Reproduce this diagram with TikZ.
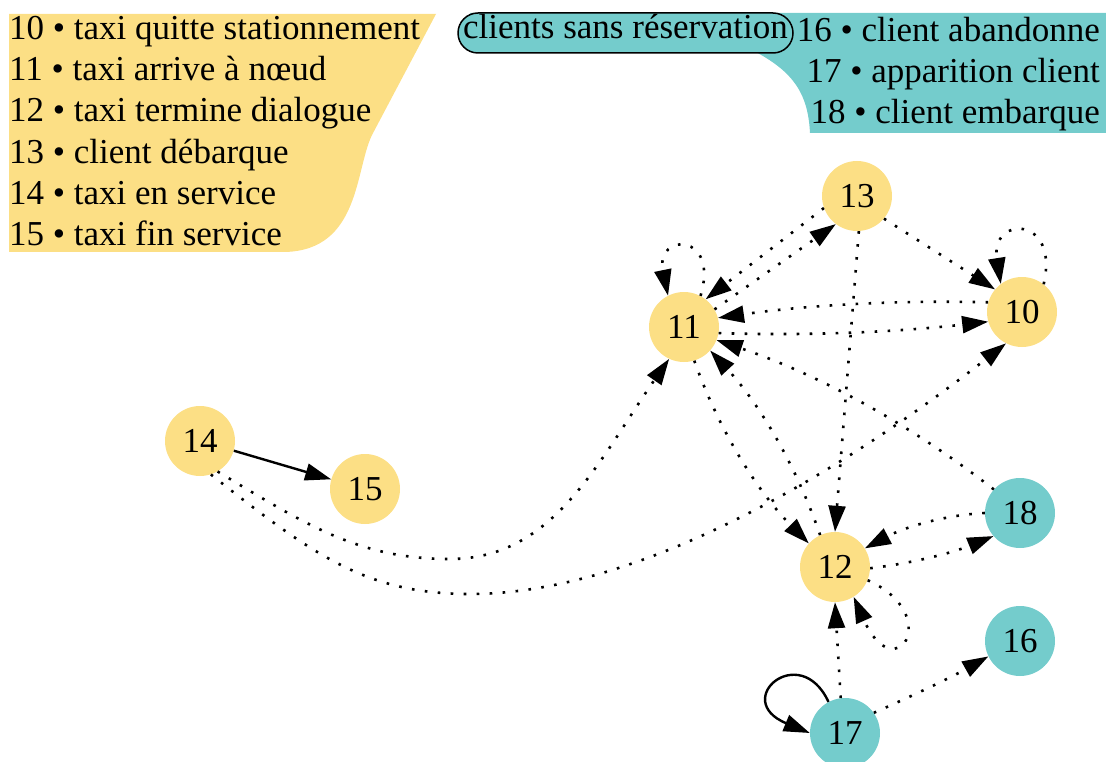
\documentclass[tikz,border=0pt]{standalone}
\usepackage{fontspec}
\setmainfont{Liberation Serif}
\usetikzlibrary{arrows.meta}
\definecolor{gold}{RGB}{252,223,133}
\definecolor{teal2}{RGB}{116,204,204}
\begin{document}
\begin{tikzpicture}[x=1pt,y=-1pt,
  big/.style={font=\fontsize{35}{41}\selectfont},
  state/.style={big,circle,minimum size=70pt,inner sep=0pt},
  yst/.style={state,fill=gold},
  tst/.style={state,fill=teal2},
  tipstyle/.style={-{Triangle[length=26pt,width=17pt]}},
  dotline/.style={tipstyle,line width=2.6pt,dash pattern=on 2.6pt off 10.4pt},
  solidline/.style={tipstyle,line width=2.4pt},
  legl/.style={big,inner sep=0pt,anchor=base west},
  legr/.style={big,inner sep=0pt,anchor=base east},
]
\useasboundingbox (0,0) rectangle (1106,762);

% legend backgrounds
\fill[gold] (9,14) -- (436,14) -- (372,135) .. controls (355,170) and (360,250) .. (285,252) -- (9,252) -- cycle;
\fill[teal2] (470,13) -- (1106,13) -- (1106,133) -- (810,133) .. controls (808,95) and (795,72) .. (752,50) -- (470,50) -- cycle;

\node[legl] (l10) at (9,39.5) {10 • taxi quitte stationnement};
\node[legl] (l11) at (9,80.7) {11 • taxi arrive à nœud};
\node[legl] (l12) at (9,121.9) {12 • taxi termine dialogue};
\node[legl] (l13) at (9,163.1) {13 • client débarque};
\node[legl] (l14) at (9,204.3) {14 • taxi en service};
\node[legl] (l15) at (9,245.5) {15 • taxi fin service};

\node[big,draw,fill=teal2,line width=1.5pt,rounded corners=20pt,minimum width=335pt,
  text height=24pt,text depth=13pt,inner ysep=1.5pt,inner xsep=0pt] (csr) at (625.5,33) {clients sans réservation};
\node[legr] (l16) at (1100,42) {16 • client abandonne};
\node[legr] (l17) at (1100,83) {17 • apparition client};
\node[legr] (l18) at (1100,124) {18 • client embarque};

% states
\node[yst] (n13) at (857,196) {13};
\node[yst] (n10) at (1022,312) {10};
\node[yst] (n11) at (684,327) {11};
\node[yst] (n14) at (200,441) {14};
\node[yst] (n15) at (365,489) {15};
\node[tst] (n18) at (1020,513) {18};
\node[yst] (n12) at (835,567) {12};
\node[tst] (n16) at (1020,641) {16};
\node[tst] (n17) at (845,733) {17};

% transitions
\draw[solidline] (n14.-16) -- (n15.164);
\draw[dotline] (n14.-60) .. controls (308,526) and (360,559) .. (450,559) .. controls (554,559) and (598,461) .. (n11.-115);
\draw[dotline] (n14.-72) .. controls (314,556) and (367,594) .. (470,594) .. controls (640,594) and (843,471) .. (n10.-117);
\draw[dotline] (n11.62) .. controls (720,232) and (655,232) .. (n11.117);
\draw[dotline] (n13.200) -- (n11.52);
\draw[dotline] (n11.30) -- (n13.233);
\draw[dotline] (n13.-40) -- (n10.140);
\draw[dotline] (n10.52) .. controls (1060,215) and (990,215) .. (n10.127);
\draw[dotline] (n10.164) .. controls (898,300) and (808,305) .. (n11.15);
\draw[dotline] (n11.-10) .. controls (808,336) and (898,332) .. (n10.196);
\draw[dotline] (n13.-87) -- (n12.90);
\draw[dotline] (n11.-73) .. controls (718.7,429.8) and (757.1,491.2) .. (n12.138);
\draw[dotline] (n12.115) .. controls (796.4,466) and (759.6,404) .. (n11.-42);
\draw[dotline] (n18.138) .. controls (910,424) and (817.5,374) .. (n11.-22);
\draw[dotline] (n18.180) .. controls (945,515) and (905,527) .. (n12.32);
\draw[dotline] (n12.-2) .. controls (911,563.5) and (952,553) .. (n18.221);
\draw[dotline] (n12.-22) .. controls (945,615) and (895,690) .. (n12.-58);
\draw[dotline] (n17.97) -- (n12.-90);
\draw[solidline] (n17.118) .. controls (800,640) and (730,700) .. (n17.180);
\draw[dotline] (n17.35) .. controls (912,696) and (950,678) .. (n16.206);
\end{tikzpicture}
\end{document}
